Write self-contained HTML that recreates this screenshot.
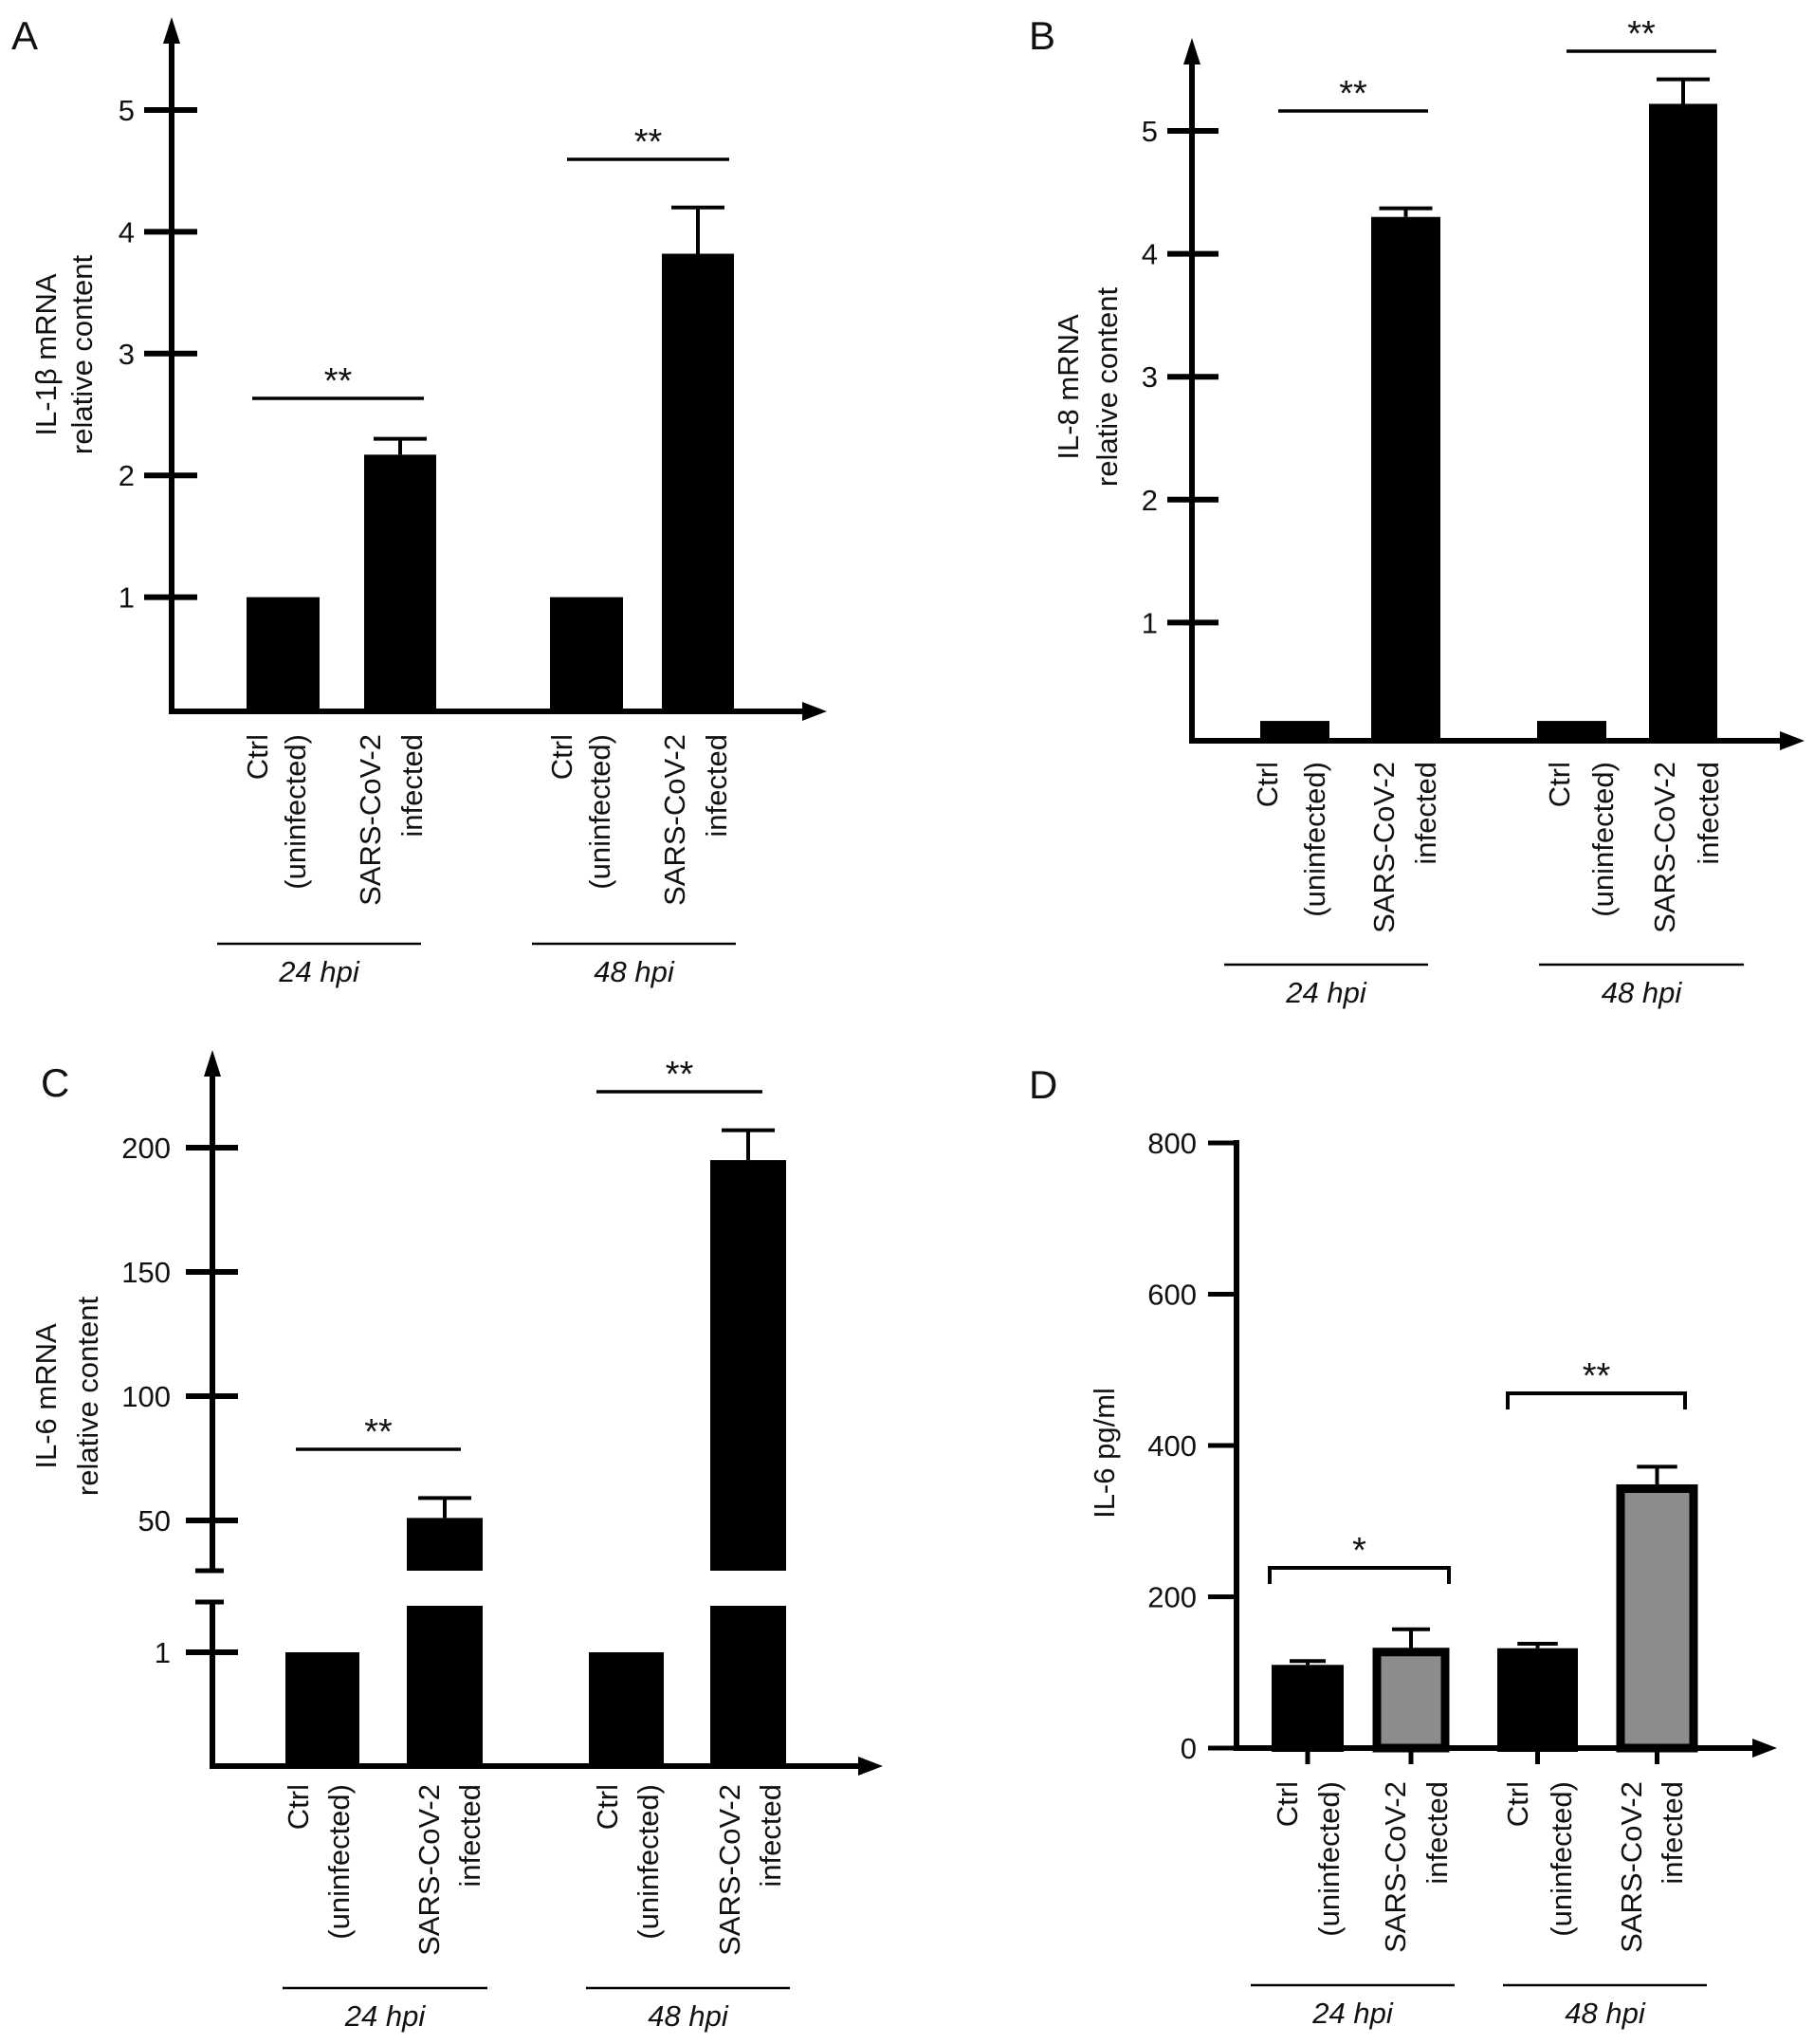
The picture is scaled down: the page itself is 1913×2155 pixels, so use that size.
<!DOCTYPE html>
<html><head><meta charset="utf-8"><style>
html,body{margin:0;padding:0;background:#fff}
svg{display:block}
text{font-family:"Liberation Sans",Arial,sans-serif;fill:#111}
</style></head><body>
<svg id="fig" width="1913" height="2155" viewBox="0 0 1913 2155" xmlns="http://www.w3.org/2000/svg"></svg>
<script>
// ---- data ----
const groupLabels = ["24 hpi", "48 hpi"];
const A_ticks = [1, 2, 3, 4, 5];
const A_values = [1, 2.17, 1, 3.82];
const A_errors = [1, 2.3, 1, 4.2];
const B_ticks = [1, 2, 3, 4, 5];
const B_values = [0.2, 4.3, 0.2, 5.22];
const B_errors = [0.2, 4.37, 0.2, 5.42];
const C_lowTicks = [1];
const C_highTicks = [50, 100, 150, 200];
const C_values = [1, 51, 1, 195];
const C_errors = [1, 59, 1, 207];
const D_ticks = [0, 200, 400, 600, 800];
const D_values = [110, 132, 132, 348];
const D_errors = [115, 157, 138, 372];
const sigA = ["**", "**"], sigB = ["**", "**"], sigC = ["**", "**"], sigD = ["*", "**"];

const NS = "http://www.w3.org/2000/svg";
const svg = document.getElementById("fig");
function mk(tag, attrs, parent) {
  const e = document.createElementNS(NS, tag);
  for (const k in attrs) e.setAttribute(k, attrs[k]);
  (parent || svg).appendChild(e);
  return e;
}
function line(g, x1, y1, x2, y2, w) { return mk("line", {x1, y1, x2, y2, stroke: "#000", "stroke-width": w}, g); }
function txt(g, x, y, s, size, anchor, extra) {
  const t = mk("text", Object.assign({x, y, "font-size": size, "text-anchor": anchor || "middle"}, extra || {}), g);
  t.textContent = s; return t;
}
function arrowUp(g, x, y) { mk("polygon", {points: `${x-9},${y+28} ${x+9},${y+28} ${x},${y}`, fill: "#000"}, g); }
function arrowRight(g, x, y) { mk("polygon", {points: `${x-26},${y-10} ${x-26},${y+10} ${x},${y}`, fill: "#000"}, g); }

function rotLabel(g, cx, top, s, name) {
  const t = mk("text", {x: 0, y: 0, "font-size": 31, "text-anchor": "end", transform: `translate(${cx+11},${top}) rotate(-90)`}, g);
  t.textContent = s;
  
  
}
function categoryLabels(g, P) {
  const names = ["ctrl-24", "sars-24", "ctrl-48", "sars-48"];
  P.cols.forEach((c, i) => {
    const isCtrl = i % 2 === 0;
    rotLabel(g, c[0], P.labTop, isCtrl ? "Ctrl" : "SARS-CoV-2", "x-label-" + names[i]);
    rotLabel(g, c[1], P.labTop, isCtrl ? "(uninfected)" : "infected", "x-label-" + names[i] + "-line2");
  });
  P.groups.forEach((gr, i) => {
    const l = line(g, gr[0], P.groupY, gr[1], P.groupY, 2.5);
    
    
    const t = txt(g, (gr[0] + gr[1]) / 2, P.groupY + 40, groupLabels[i], 31, "middle", {"font-style": "italic"});
    
    
  });
}
function sigLines(g, P, sig, bracket) {
  P.sig.forEach((s, i) => {
    if (bracket) {
      const p = mk("polyline", {points: `${s[0]},${s[2]+17} ${s[0]},${s[2]} ${s[1]},${s[2]} ${s[1]},${s[2]+17}`, fill: "none", stroke: "#000", "stroke-width": 4}, g);
      
      
    } else {
      const l = line(g, s[0], s[2], s[1], s[2], 3.5);
      
      
    }
    const t = txt(g, (s[0] + s[1]) / 2, s[2] - 6, sig[i], 38, "middle", {fill: "#333"});
    
    
  });
}
function errBar(g, cx, yTop, yErr, cap, i) {
  const e = mk("g", {}, g);
  
  
  line(e, cx, yTop, cx, yErr, 4);
  line(e, cx - cap/2, yErr, cx + cap/2, yErr, 4);
}
function panelLetter(g, x, y, s) {
  const t = txt(g, x, y, s, 42, "start");
  
  
}
function yTitle(g, x, cy, lines) {
  lines.forEach((s, i) => {
    const t = mk("text", {x: 0, y: 0, "font-size": 31, "text-anchor": "middle", transform: `translate(${x[i]+11},${cy}) rotate(-90)`}, g);
    t.textContent = s;
    
    
  });
}

// ---- generic simple panel (A, B) ----
function simplePanel(P, ticks, values, errors, sig, letter) {
  const g = mk("g", {});
  
  
  const y = v => P.y0 + (P.y1v - P.y0) * v / P.v1;
  panelLetter(g, P.letter[0], P.letter[1], letter);
  const ax = mk("g", {}, g);
  
  
  line(ax, P.ax, P.axisY + 3, P.ax, P.top + 20, 6);
  arrowUp(ax, P.ax, P.top);
  ticks.forEach(t => {
    line(ax, P.tick[0], y(t), P.tick[1], y(t), 6);
    txt(ax, P.tickLab, y(t) + 11, String(t), 31, "end");
  });
  const xa = mk("g", {}, g);
  
  
  line(xa, P.ax - 3, P.axisY, P.right - 20, P.axisY, 6);
  arrowRight(xa, P.right, P.axisY);
  values.forEach((v, i) => {
    const b = P.bars[i];
    const r = mk("rect", {x: b[0], y: y(v), width: b[1] - b[0], height: P.axisY - y(v), fill: "#000"}, g);
    
    
    if (errors[i] > v + 1e-9) errBar(g, (b[0] + b[1]) / 2, y(v), y(errors[i]), 56, i);
  });
  sigLines(g, P, sig, false);
  categoryLabels(g, P);
  yTitle(g, P.title, P.titleY, P.titleLines);
}

simplePanel({
  letter: [12, 52], ax: 181, top: 18, axisY: 750, right: 872,
  y0: 758, y1v: 116, v1: 5, tick: [152, 208], tickLab: 142,
  bars: [[260, 337], [384, 460], [580, 657], [698, 774]],
  sig: [[266, 447, 420], [598, 769, 168]],
  cols: [[271, 311], [390, 434], [592, 632], [711, 755]], labTop: 774,
  groups: [[229, 444], [561, 776]], groupY: 995,
  title: [48, 86], titleY: 374, titleLines: ["IL-1β mRNA", "relative content"]
}, A_ticks, A_values, A_errors, sigA, "A");

simplePanel({
  letter: [1085, 52], ax: 1257, top: 40, axisY: 781, right: 1903,
  y0: 786, y1v: 138, v1: 5, tick: [1231, 1285], tickLab: 1221,
  bars: [[1329, 1402], [1446, 1519], [1621, 1694], [1739, 1811]],
  sig: [[1348, 1506, 117], [1652, 1810, 54]],
  cols: [[1336, 1386], [1459, 1503], [1644, 1690], [1755, 1801]], labTop: 803,
  groups: [[1291, 1506], [1623, 1839]], groupY: 1017,
  title: [1126, 1167], titleY: 408, titleLines: ["IL-8 mRNA", "relative content"]
}, B_ticks, B_values, B_errors, sigB, "B");

// ---- panel C (broken axis) ----
(function () {
  const P = {
    bars: [[301, 379], [429, 509], [621, 700], [749, 829]],
    sig: [[312, 486, 1528], [629, 804, 1151]],
    cols: [[314, 357], [452, 495], [640, 683], [769, 812]], labTop: 1881,
    groups: [[298, 514], [618, 833]], groupY: 2096
  };
  const ax = 224, axisY = 1862, top = 1107, right = 931;
  const lowY = v => axisY - 120 * v;            // lower segment
  const highY = v => 1603 - (v - 50) * 2.62;    // upper segment
  const breakLowTop = 1689, breakHighBottom = 1656;
  const g = mk("g", {});
  
  
  panelLetter(g, 43, 1156, "C");
  const ya = mk("g", {}, g);
  
  
  line(ya, ax, axisY + 3, ax, breakLowTop, 6);
  line(ya, 206, breakLowTop, 236, breakLowTop, 5);
  line(ya, ax, breakHighBottom, ax, top + 20, 6);
  line(ya, 206, breakHighBottom, 236, breakHighBottom, 5);
  arrowUp(ya, ax, top);
  C_lowTicks.forEach(t => { line(ya, 196, lowY(t), 251, lowY(t), 6); txt(ya, 180, lowY(t) + 11, String(t), 31, "end"); });
  C_highTicks.forEach(t => { line(ya, 196, highY(t), 251, highY(t), 6); txt(ya, 180, highY(t) + 11, String(t), 31, "end"); });
  const xa = mk("g", {}, g);
  
  
  line(xa, ax - 3, axisY, right - 20, axisY, 6);
  arrowRight(xa, right, axisY);
  C_values.forEach((v, i) => {
    const b = P.bars[i], w = b[1] - b[0];
    if (v <= 1.5) {
      const r = mk("rect", {x: b[0], y: lowY(v), width: w, height: axisY - lowY(v), fill: "#000"}, g);
      
      
    } else {
      const r1 = mk("rect", {x: b[0], y: breakLowTop + 4, width: w, height: axisY - breakLowTop - 4, fill: "#000"}, g);
      
      
      const r2 = mk("rect", {x: b[0], y: highY(v), width: w, height: breakHighBottom - highY(v), fill: "#000"}, g);
      
      
      if (C_errors[i] > v) errBar(g, (b[0] + b[1]) / 2, highY(v), highY(C_errors[i]), 56, i);
    }
  });
  sigLines(g, P, sigC, false);
  categoryLabels(g, P);
  yTitle(g, [48, 92], 1472, ["IL-6 mRNA", "relative content"]);
})();

// ---- panel D ----
(function () {
  const P = {
    bars: [[1341, 1417], [1448, 1528], [1579, 1664], [1705, 1790]],
    sig: [[1339, 1528, 1653], [1590, 1777, 1469]],
    cols: [[1357, 1401], [1471, 1515], [1600, 1646], [1720, 1763]], labTop: 1878,
    groups: [[1319, 1534], [1585, 1800]], groupY: 2093
  };
  const ax = 1304, axisY = 1843, right = 1874;
  const y = v => axisY - (axisY - 1205) * v / 800;
  const g = mk("g", {});
  
  
  panelLetter(g, 1085, 1158, "D");
  const ya = mk("g", {}, g);
  
  
  line(ya, ax, axisY + 3, ax, y(800) - 3, 6);
  D_ticks.forEach(t => { line(ya, 1274, y(t), ax, y(t), 5); txt(ya, 1262, y(t) + 11, String(t), 31, "end"); });
  const xa = mk("g", {}, g);
  
  
  line(xa, ax - 3, axisY, right - 20, axisY, 6);
  arrowRight(xa, right, axisY);
  D_values.forEach((v, i) => {
    const b = P.bars[i], cx = (b[0] + b[1]) / 2;
    line(xa, cx, axisY, cx, 1860, 5);
    if (D_errors[i] > v) errBar(g, cx, y(v), y(D_errors[i]), (b[1] - b[0]) * 0.5, i);
    const infected = i % 2 === 1;
    const r = mk("rect", {x: b[0] + 4, y: y(v) + 4, width: b[1] - b[0] - 8, height: axisY - y(v) - 4,
      fill: infected ? "#8c8c8c" : "#000", stroke: "#000", "stroke-width": infected ? 9 : 8}, g);
    
    
  });
  sigLines(g, P, sigD, true);
  categoryLabels(g, P);
  yTitle(g, [1164], 1532, ["IL-6 pg/ml"]);
})();
</script>
</body></html>
